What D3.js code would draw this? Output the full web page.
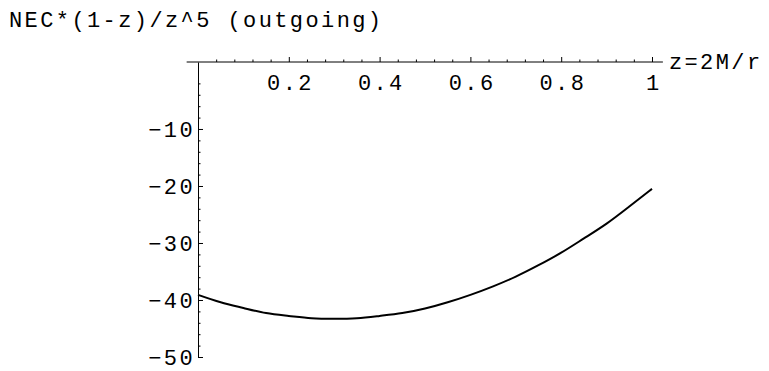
<!DOCTYPE html>
<html><head><meta charset="utf-8">
<script src="https://cdn.jsdelivr.net/npm/d3@7"></script>
<style>
body{margin:0;background:#fff}
svg{display:block}
text{font-family:"Liberation Mono","DejaVu Sans Mono",monospace;fill:#000}
</style>
</head><body><svg width="769" height="371"></svg>
<script>
// ---- data ----
const zValues   = [0,0.05,0.1,0.15,0.2,0.25,0.3,0.35,0.4,0.45,0.5,0.55,0.6,0.65,0.7,0.75,0.8,0.85,0.9,0.95,1];
const necValues = [-39.1,-40.4,-41.4,-42.3,-42.8,-43.2,-43.3,-43.2,-42.8,-42.3,-41.5,-40.4,-39.1,-37.6,-35.9,-33.9,-31.7,-29.2,-26.6,-23.6,-20.5];
const xTickValues = [0.2,0.4,0.6,0.8,1];
const xTickLabels = ["0.2","0.4","0.6","0.8","1"];
const xMinorTicks = [0.04,0.08,0.12,0.16,0.24,0.28,0.32,0.36,0.44,0.48,0.52,0.56,0.64,0.68,0.72,0.76,0.84,0.88,0.92,0.96];
const yTickValues = [-10,-20,-30,-40,-50];
const yTickLabels = ["\u221210","\u221220","\u221230","\u221240","\u221250"];
const yMinorTicks = [-2,-4,-6,-8,-12,-14,-16,-18,-22,-24,-26,-28,-32,-34,-36,-38,-42,-44,-46,-48];
const titleText = "NEC*(1-z)/z^5 (outgoing)";
const xAxisLabel = "z=2M/r";

const svg = d3.select("svg");
const FS = 22, LS = 2.4;

const x = d3.scaleLinear().domain([0,1]).range([198,652]);
const y = d3.scaleLinear().domain([-50,1.75]).range([357,62]);
const xAxisY = y(1.75);

// title
svg.append("text").attr("x",9).attr("y",27).attr("font-size",FS).attr("letter-spacing",LS).text(titleText);

// x axis
const gx = svg.append("g").attr("transform",`translate(0,${xAxisY})`);
gx.call(d3.axisBottom(x).tickValues(xMinorTicks).tickSizeInner(-2.5).tickSizeOuter(0).tickFormat(""));
gx.call(g=>g.select(".domain").remove());
const gx2 = svg.append("g").attr("transform",`translate(0,${xAxisY})`);
gx2.call(d3.axisBottom(x).tickValues(xTickValues).tickSizeInner(-5).tickSizeOuter(0).tickPadding(12)
  .tickFormat((d,i)=>xTickLabels[i]));
gx2.call(g=>g.select(".domain").remove());
gx2.selectAll("text").attr("font-size",FS).attr("font-family",null)
  .attr("letter-spacing",LS).attr("dx",LS/2);
svg.append("line").attr("x1",x(-0.025)).attr("x2",x(1.024)).attr("y1",xAxisY).attr("y2",xAxisY)
  .attr("stroke","#000").attr("stroke-width",1);

svg.append("text").attr("x",x(1.024)+6).attr("y",xAxisY+7).attr("font-size",FS)
  .attr("letter-spacing",LS).text(xAxisLabel);

// y axis
const gy = svg.append("g").attr("transform",`translate(${x(0)},0)`);
gy.call(d3.axisLeft(y).tickValues(yMinorTicks).tickSizeInner(-2.5).tickSizeOuter(0).tickFormat(""));
gy.call(g=>g.select(".domain").remove());
const gy2 = svg.append("g").attr("transform",`translate(${x(0)},0)`);
gy2.call(d3.axisLeft(y).tickValues(yTickValues).tickSizeInner(-5).tickSizeOuter(0).tickPadding(3)
  .tickFormat((d,i)=>yTickLabels[i]));
gy2.select(".domain").attr("stroke","#000");
gy2.selectAll("text").attr("font-size",FS).attr("font-family",null).attr("letter-spacing",LS);
svg.selectAll(".tick line").attr("stroke","#000");

// curve
const line = d3.line().x((d,i)=>x(zValues[i])).y(d=>y(d)).curve(d3.curveNatural);
svg.append("path").datum(necValues).attr("d",line).attr("fill","none").attr("stroke","#000").attr("stroke-width",2);
</script>
</body></html>
